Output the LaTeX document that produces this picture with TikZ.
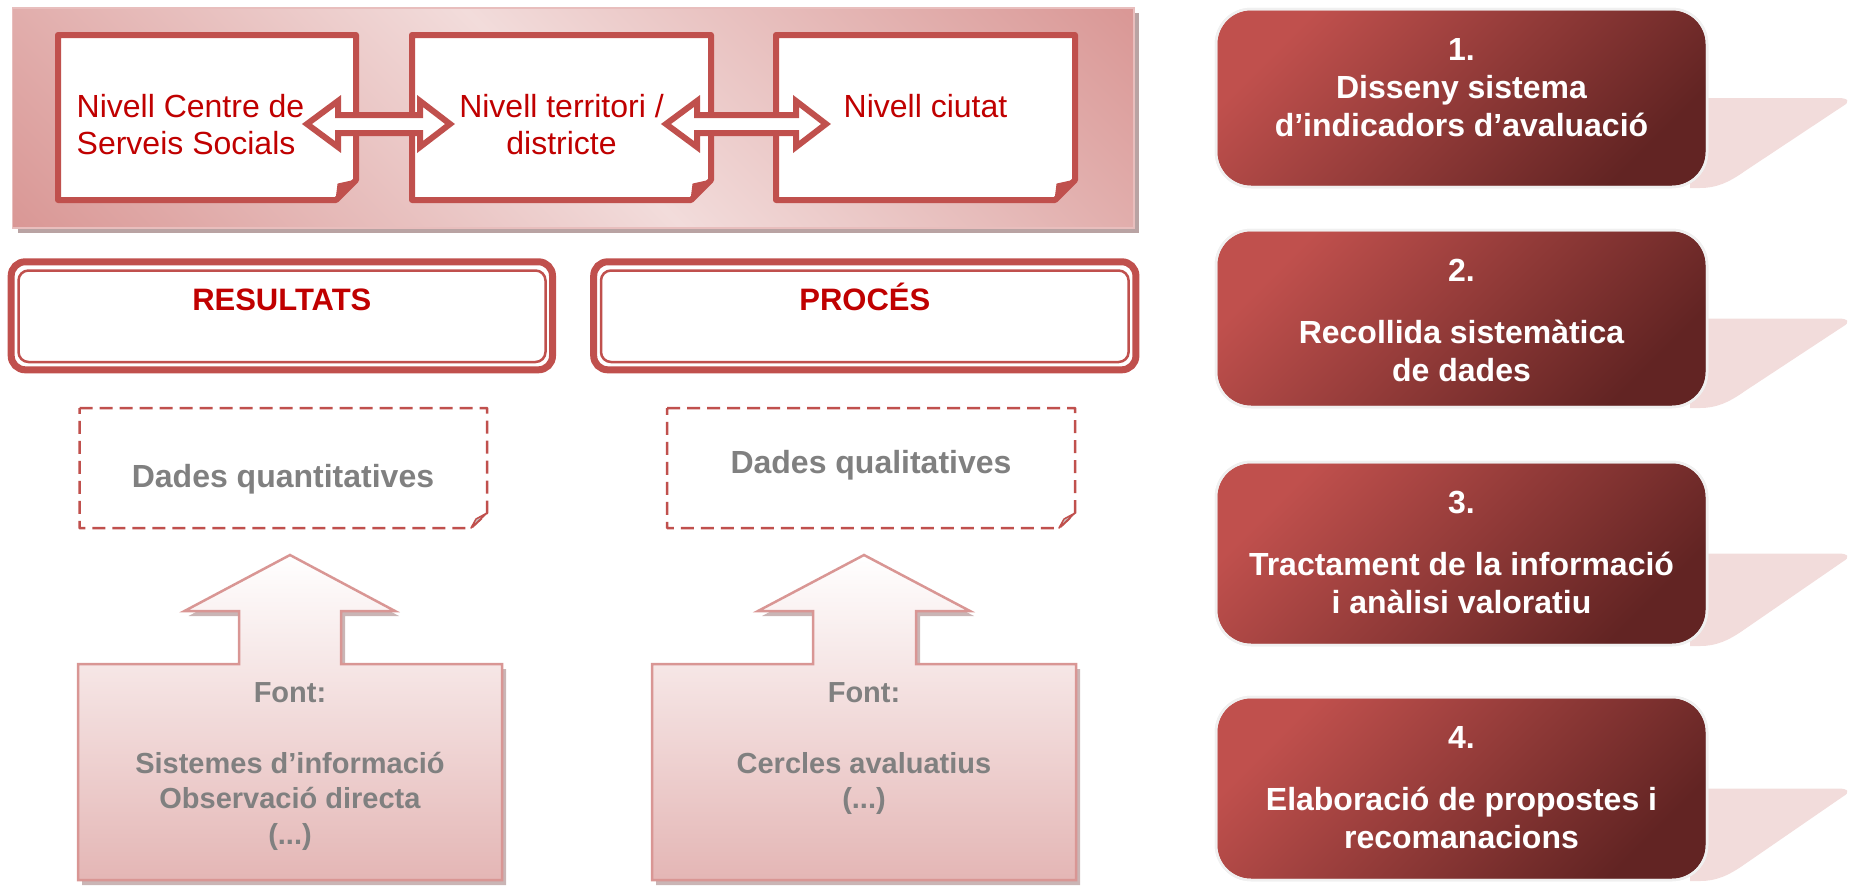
\documentclass[tikz,border=0pt]{standalone}
\usepackage{fontspec}
\setmainfont{Liberation Sans}
\definecolor{accent}{HTML}{C0504D}
\definecolor{redtxt}{HTML}{C00000}
\definecolor{bandlt}{HTML}{F2DCDB}
\definecolor{banddk}{HTML}{D99694}
\definecolor{bandedge}{HTML}{E8BEBD}
\definecolor{bandshadow}{HTML}{B9A3A3}
\definecolor{greytxt}{HTML}{808080}
\definecolor{stepdk}{HTML}{622423}
\definecolor{stepedge}{HTML}{F0F0F0}
\definecolor{tailcol}{HTML}{F2DCDB}
\definecolor{calloutbd}{HTML}{D99694}
\definecolor{calloutbt}{HTML}{E4B6B5}
\definecolor{calloutsh}{HTML}{B89C9C}
\definecolor{foldgrey}{HTML}{C8C8C8}
\pgfdeclareverticalshading{bandshade}{100bp}{color(0bp)=(banddk); color(14bp)=(banddk); color(50bp)=(bandlt); color(86bp)=(banddk); color(100bp)=(banddk)}
\begin{document}
\begin{tikzpicture}[x=1pt,y=-1pt,
  levelbox/.style={draw=accent, fill=white, line width=6pt, line join=round},
  foldmark/.style={fill=accent, draw=accent, line width=1pt, line join=round},
  dblarrow/.style={draw=accent, fill=white, line width=6pt, line join=miter},
  leveltext/.style={text=redtxt, font=\fontsize{32}{37.5}\selectfont, inner sep=0pt, anchor=base, align=center},
  catouter/.style={draw=accent, fill=white, line width=7pt, rounded corners=14pt},
  catinner/.style={draw=accent, line width=2.5pt, rounded corners=10pt},
  cattext/.style={text=redtxt, font=\fontsize{31}{36}\selectfont\bfseries, inner sep=0pt, anchor=base},
  databox/.style={draw=accent, line width=2.5pt, dash pattern=on 13pt off 7pt, line join=round},
  datafold/.style={fill=foldgrey, draw=accent, line width=1.5pt, line join=round},
  datatext/.style={text=greytxt, font=\fontsize{32}{37}\selectfont\bfseries, inner sep=0pt, anchor=base},
  callout/.style={draw=calloutbd, line width=2.5pt, top color=white, bottom color=calloutbt, line join=miter},
  calloutshadow/.style={fill=calloutsh, opacity=0.75},
  callouttext/.style={text=greytxt, font=\fontsize{29}{35.5}\selectfont\bfseries, inner sep=0pt, anchor=base, align=center},
  stepbox/.style={draw=stepedge, line width=2.5pt, rounded corners=35pt, top color=accent, bottom color=stepdk, shading angle=45},
  steptext/.style={text=white, font=\fontsize{32}{38}\selectfont\bfseries, inner sep=0pt, anchor=base, align=center}
]
\useasboundingbox (0,0) rectangle (1849,886);

% ---------- top band ----------
\fill[bandshadow] (18,13) rectangle (1139,233);
\path[shading=bandshade, shading angle=-45] (12.5,8) rectangle (1134,228);
\draw[bandedge, line width=1.5pt] (12.5,8) rectangle (1134,228);

% level boxes
\draw[levelbox] (58,35) -- (356,35) -- (356,180) -- (336,200) -- (58,200) -- cycle;
\fill[foldmark] (356,180) -- (338,184) -- (336,200) -- cycle;
\draw[levelbox] (412,35) -- (711,35) -- (711,180) -- (691,200) -- (412,200) -- cycle;
\fill[foldmark] (711,180) -- (693,184) -- (691,200) -- cycle;
\draw[levelbox] (776,35) -- (1075,35) -- (1075,180) -- (1055,200) -- (776,200) -- cycle;
\fill[foldmark] (1075,180) -- (1057,184) -- (1055,200) -- cycle;

% double arrows
\draw[dblarrow] (307,124) -- (338,101) -- (338,115) -- (420,115) -- (420,101) -- (450,124)
  -- (420,147) -- (420,133) -- (338,133) -- (338,147) -- cycle;
\draw[dblarrow] (666,124) -- (697,101) -- (697,115) -- (796,115) -- (796,101) -- (826,124)
  -- (796,147) -- (796,133) -- (697,133) -- (697,147) -- cycle;

% (base anchor of a multi-line node = baseline of its last line)
\node[leveltext, anchor=base west, align=left] (lv1) at (76.5,154.5) {Nivell Centre de\\Serveis Socials};
\node[leveltext] (lv2) at (561.5,154.5) {Nivell territori /\\districte};
\node[leveltext] (lv3) at (925.5,117) {Nivell ciutat};

% ---------- category frames ----------
\draw[catouter] (11.2,261.8) rectangle (552.5,369.8);
\draw[catinner] (18.5,270.5) rectangle (545.5,362);
\node[cattext] (res) at (281.8,310) {RESULTATS};
\draw[catouter] (593.7,261.8) rectangle (1135.9,369.8);
\draw[catinner] (601,270.5) rectangle (1128.6,362);
\node[cattext] (proc) at (864.8,310) {PROCÉS};

% ---------- dashed data boxes ----------
\draw[databox] (79.5,408) -- (487,408) -- (487,513) -- (471,528) -- (79.5,528) -- cycle;
\filldraw[datafold] (487,513) -- (476,519) -- (471,528) -- cycle;
\node[datatext] (dqn) at (283,487) {Dades quantitatives};
\draw[databox] (667,408) -- (1075,408) -- (1075,513) -- (1059,528) -- (667,528) -- cycle;
\filldraw[datafold] (1075,513) -- (1064,519) -- (1059,528) -- cycle;
\node[datatext] (dql) at (871,473) {Dades qualitatives};

% ---------- up-arrow callouts ----------
\fill[calloutshadow, shift={(4,5)}] (290,555) -- (395,611) -- (341,611) -- (341,664) -- (502,664)
  -- (502,880) -- (78,880) -- (78,664) -- (239,664) -- (239,611) -- (184.5,611) -- cycle;
\draw[callout] (290,555) -- (395,611) -- (341,611) -- (341,664) -- (502,664)
  -- (502,880) -- (78,880) -- (78,664) -- (239,664) -- (239,611) -- (184.5,611) -- cycle;
\node[callouttext] (f1) at (290,844) {Font:\\[35.5pt]Sistemes d’informació\\Observació directa\\(...)};

\fill[calloutshadow, shift={(4,5)}] (864,555) -- (970,611) -- (916,611) -- (916,664) -- (1076,664)
  -- (1076,880) -- (652,880) -- (652,664) -- (813,664) -- (813,611) -- (758,611) -- cycle;
\draw[callout] (864,555) -- (970,611) -- (916,611) -- (916,664) -- (1076,664)
  -- (1076,880) -- (652,880) -- (652,664) -- (813,664) -- (813,611) -- (758,611) -- cycle;
\node[callouttext] (f2) at (864,808.5) {Font:\\[35.5pt]Cercles avaluatius\\(...)};

% ---------- step boxes ----------
\foreach \M/\B in {98/187, 318.5/407, 553.5/645, 788.5/880}{
  \fill[tailcol] (1690,\M) -- (1838,\M) .. controls (1849,\M) and (1850,\M+4) .. (1843,\M+8)
    -- (1745,\B-16) .. controls (1728,\B-4) and (1716,\B+1) .. (1700,\B+1) -- (1690,\B+1) -- cycle;
}
\path[stepbox] (1216,9) rectangle (1707,187);
\path[stepbox] (1216,230) rectangle (1707,407);
\path[stepbox] (1216,462) rectangle (1707,645);
\path[stepbox] (1216,697) rectangle (1707,880);
\draw[stepedge, line width=2.5pt, rounded corners=35pt] (1216,9) rectangle (1707,187);
\draw[stepedge, line width=2.5pt, rounded corners=35pt] (1216,230) rectangle (1707,407);
\draw[stepedge, line width=2.5pt, rounded corners=35pt] (1216,462) rectangle (1707,645);
\draw[stepedge, line width=2.5pt, rounded corners=35pt] (1216,697) rectangle (1707,880);

\node[steptext] (s1) at (1461.5,136.5) {1.\\Disseny sistema\\d’indicadors d’avaluació};
\node[steptext] (s2) at (1461.5,381.5) {2.\\[24pt]Recollida sistemàtica\\de dades};
\node[steptext] (s3) at (1461.5,613.5) {3.\\[24pt]Tractament de la informació\\i anàlisi valoratiu};
\node[steptext] (s4) at (1461.5,848.5) {4.\\[24pt]Elaboració de propostes i\\recomanacions};
\end{tikzpicture}
\end{document}
